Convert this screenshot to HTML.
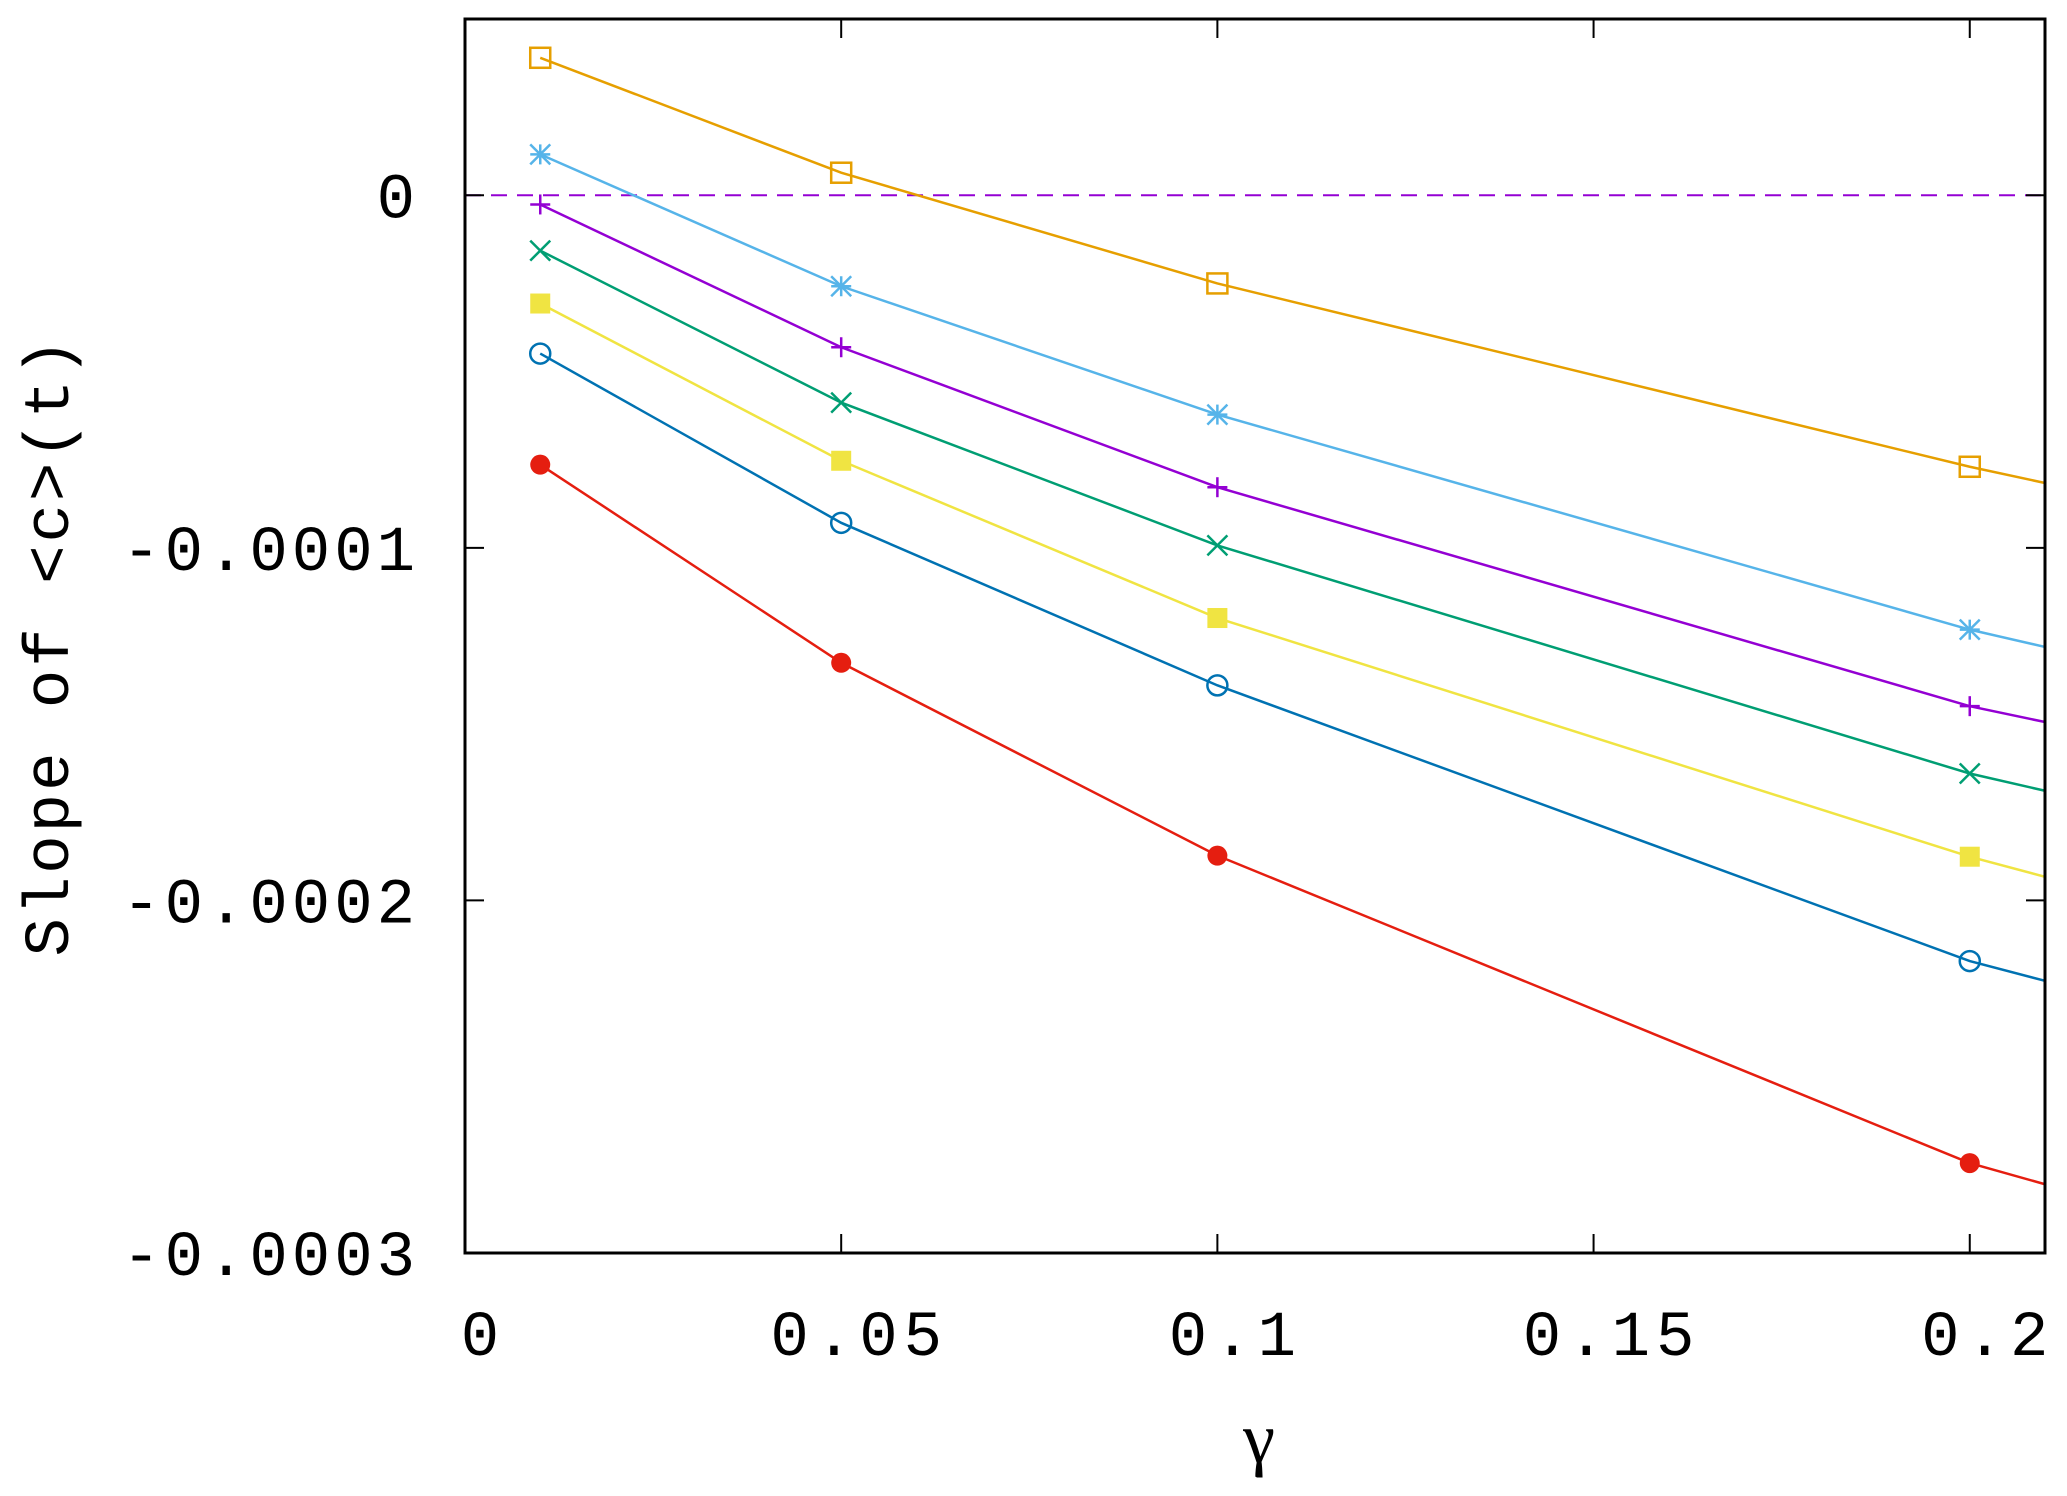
<!DOCTYPE html>
<html><head><meta charset="utf-8"><style>
html,body{margin:0;padding:0;background:#fff;}
svg{display:block;}
text{font-family:"Liberation Mono",monospace;fill:#000;}
</style></head><body>
<svg id="chart" width="2067" height="1496" viewBox="0 0 2067 1496" xmlns="http://www.w3.org/2000/svg">
<g id="grid"></g>
<g id="series"></g>
<g id="frame"></g>
</svg>
<script>
const gammas = [0.01, 0.05, 0.1, 0.2, 0.21];
const sOrange = [0.39, 0.064, -0.25, -0.77, -0.816];
const sCyan   = [0.116, -0.258, -0.622, -1.232, -1.281];
const sPurple = [-0.026, -0.431, -0.828, -1.449, -1.494];
const sGreen  = [-0.157, -0.588, -0.993, -1.64, -1.689];
const sYellow = [-0.307, -0.753, -1.199, -1.876, -1.933];
const sBlue   = [-0.449, -0.929, -1.39, -2.172, -2.228];
const sRed    = [-0.764, -1.326, -1.873, -2.745, -2.805];
const xTicks = [0, 0.05, 0.1, 0.15, 0.2];
const xTickLabels = ["0", "0.05", "0.1", "0.15", "0.2"];
const yTicks = [0, -1, -2, -3];
const yTickLabels = ["0", "-0.0001", "-0.0002", "-0.0003"];

const L=465, R=2045, T=19, B=1253;
const xMin=0, xMax=0.21, yMin=-3, yMax=0.5;
const X = v => L + (v - xMin) / (xMax - xMin) * (R - L);
const Y = v => B - (v - yMin) / (yMax - yMin) * (B - T);
const NS = "http://www.w3.org/2000/svg";
function mk(tag, attrs, parent){const e=document.createElementNS(NS,tag);for(const k in attrs)e.setAttribute(k,attrs[k]);parent.appendChild(e);return e;}
const svg=document.getElementById('chart');
const grid=document.getElementById('grid'), ser=document.getElementById('series'), frame=document.getElementById('frame');

const zl = mk('line',{x1:L,x2:R,y1:Y(0),y2:Y(0),stroke:'#9400d3','stroke-width':2,'stroke-dasharray':'16 10'},grid);



const series = [
 {name:'orange', vals:sOrange, color:'#e69f00', m:'osq'},
 {name:'cyan', vals:sCyan, color:'#56b4e9', m:'star'},
 {name:'purple', vals:sPurple, color:'#9400d3', m:'plus'},
 {name:'green', vals:sGreen, color:'#009e73', m:'cross'},
 {name:'yellow', vals:sYellow, color:'#f0e442', m:'fsq'},
 {name:'blue', vals:sBlue, color:'#0072b2', m:'ocirc'},
 {name:'red', vals:sRed, color:'#e51e10', m:'fcirc'}
];
series.forEach(s=>{
  const g=mk('g',{},ser);
  
  
  const pts=s.vals.map((v,i)=>X(gammas[i])+','+Y(v)).join(' ');
  const pl=mk('polyline',{points:pts,fill:'none',stroke:s.color,'stroke-width':2.5},g);
  
  
  for(let i=0;i<4;i++){
    const cx=X(gammas[i]), cy=Y(s.vals[i]), r=10;
    const mg=mk('g',{stroke:s.color,'stroke-width':2.5,fill:'none'},g);
    
    
    if(s.m==='osq') mk('rect',{x:cx-r,y:cy-r,width:2*r,height:2*r},mg);
    if(s.m==='fsq') mk('rect',{x:cx-r,y:cy-r,width:2*r,height:2*r,fill:s.color,stroke:'none'},mg);
    if(s.m==='ocirc') mk('circle',{cx:cx,cy:cy,r:r},mg);
    if(s.m==='fcirc') mk('circle',{cx:cx,cy:cy,r:r,fill:s.color,stroke:'none'},mg);
    if(s.m==='plus'||s.m==='star'){mk('line',{x1:cx-r,x2:cx+r,y1:cy,y2:cy},mg);mk('line',{x1:cx,x2:cx,y1:cy-r,y2:cy+r},mg);}
    if(s.m==='cross'||s.m==='star'){mk('line',{x1:cx-r,x2:cx+r,y1:cy-r,y2:cy+r},mg);mk('line',{x1:cx-r,x2:cx+r,y1:cy+r,y2:cy-r},mg);}
  }
});

const box=mk('rect',{x:L,y:T,width:R-L,height:B-T,fill:'none',stroke:'#000','stroke-width':3},frame);


xTicks.forEach((v,i)=>{
  const x=X(v);
  mk('line',{x1:x,x2:x,y1:B,y2:B-19,stroke:'#000','stroke-width':2},frame);
  mk('line',{x1:x,x2:x,y1:T,y2:T+19,stroke:'#000','stroke-width':2},frame);
  const t=mk('text',{x:x+18,y:1355,'font-size':64,'text-anchor':'middle','letter-spacing':6},frame);
  t.textContent=xTickLabels[i];
  
  
});
yTicks.forEach((v,i)=>{
  const y=Y(v);
  mk('line',{x1:L,x2:L+19,y1:y,y2:y,stroke:'#000','stroke-width':2},frame);
  mk('line',{x1:R,x2:R-19,y1:y,y2:y,stroke:'#000','stroke-width':2},frame);
  const t=mk('text',{x:419,y:y+22,'font-size':64,'text-anchor':'end','letter-spacing':4},frame);
  t.textContent=yTickLabels[i];
  
  
});
const xt=mk('text',{x:1259,y:1462,'font-size':72,'text-anchor':'middle',style:'font-family:"Liberation Serif",serif'},frame);
xt.textContent='γ';


const yt=mk('text',{x:0,y:0,'font-size':64,'text-anchor':'middle','letter-spacing':3,transform:'translate(68,646) rotate(-90)'},frame);
yt.textContent='Slope of <c>(t)';


</script>
</body></html>
